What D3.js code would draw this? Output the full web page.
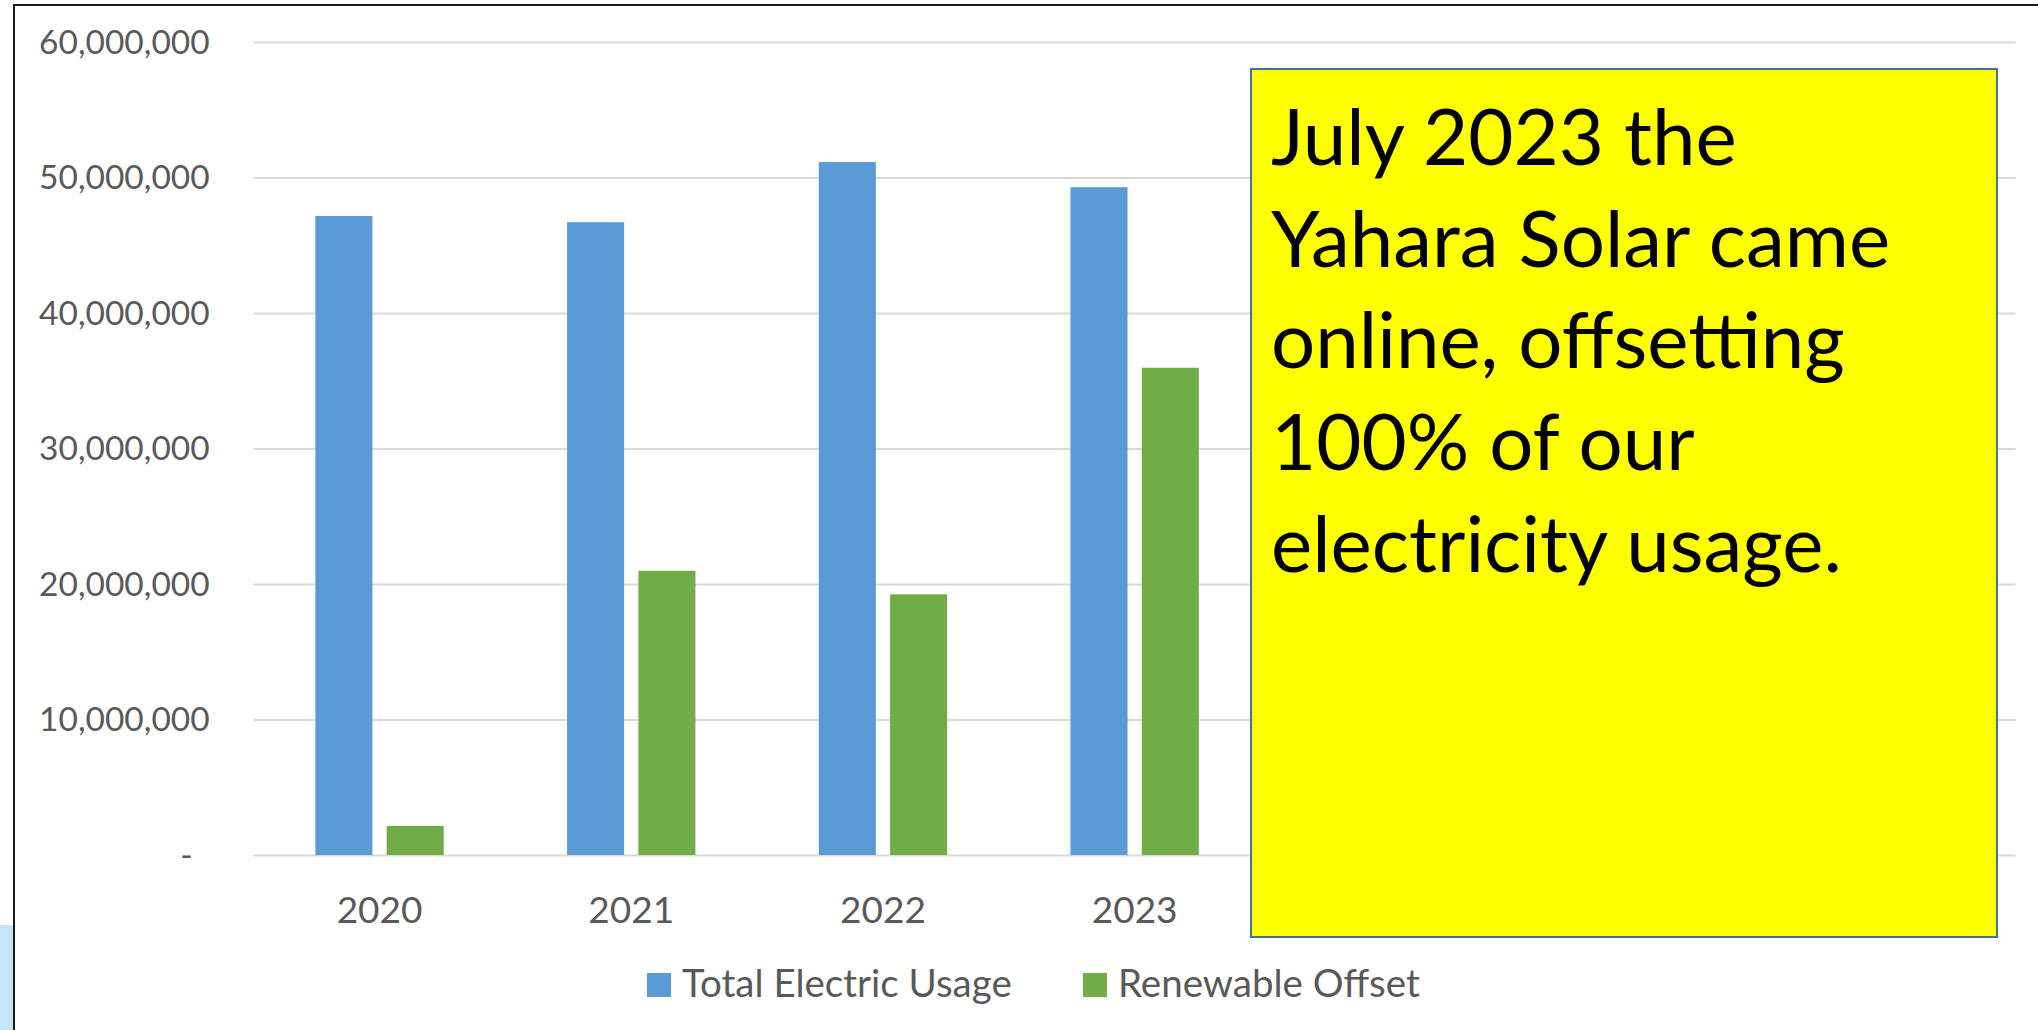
<!DOCTYPE html>
<html>
<head>
<meta charset="utf-8">
<script src="https://cdn.jsdelivr.net/npm/d3@7"></script>
<style>
  body { margin: 0; background: #fff; }
  svg { display: block; }
  .axis text { font-family: Lato, "Open Sans", sans-serif; fill: #595959; }
  .legend text { font-family: Lato, "Open Sans", sans-serif; fill: #595959; }
  .note text { font-family: Lato, "Open Sans", sans-serif; fill: #000; }
</style>
</head>
<body>
<div id="chart"></div>
<script>
const categories = ["2020", "2021", "2022", "2023", "2024", "2025", "2026"];
const totalUsage = [47160000, 46700000, 51140000, 49280000, null, null, null];
const renewableOffset = [2140000, 20980000, 19240000, 35960000, null, null, null];
const seriesNames = ["Total Electric Usage", "Renewable Offset"];
const yTicks = [0, 10000000, 20000000, 30000000, 40000000, 50000000, 60000000];
const noteLines = ["July 2023 the", "Yahara Solar came", "online, offsetting", "100% of our", "electricity usage."];

const width = 2038;
const height = 1030;
const plotLeft = 253.7;
const plotRight = 2015.6;
const plotTop = 42;
const plotBottom = 855;
const colors = ["#5B9BD5", "#70AD47"];

const svg = d3.select("#chart").append("svg")
    .attr("width", width)
    .attr("height", height);

// outer frame (runs off the right and bottom of the picture)
svg.append("rect")
    .attr("x", 14)
    .attr("y", 5)
    .attr("width", 2200)
    .attr("height", 1200)
    .attr("fill", "none")
    .attr("stroke", "#1a1a1a")
    .attr("stroke-width", 2);

// sliver of something light blue at the bottom left
svg.append("rect")
    .attr("x", 0)
    .attr("y", 925)
    .attr("width", 13)
    .attr("height", 110)
    .attr("fill", "#c6e2f4");

const x0 = d3.scaleBand()
    .domain(categories)
    .range([plotLeft, plotRight])
    .paddingInner(0.49)
    .paddingOuter(0.245);

const x1 = d3.scaleBand()
    .domain(seriesNames)
    .range([0, x0.bandwidth()])
    .paddingInner(0.2);

const y = d3.scaleLinear()
    .domain([0, 60000000])
    .range([plotBottom, plotTop]);

const yaxis = d3.axisLeft(y)
    .tickValues(yTicks)
    .tickSize(-(plotRight - plotLeft))
    .tickPadding(44)
    .tickFormat(function(d) { return d === 0 ? "-" : d3.format(",")(d); });

const gy = svg.append("g")
    .attr("class", "axis")
    .attr("transform", "translate(" + plotLeft + ",0)")
    .call(yaxis);

gy.select(".domain").remove();
gy.selectAll(".tick line")
    .attr("stroke", "#d9d9d9")
    .attr("stroke-width", 2);
gy.selectAll(".tick text")
    .style("font-size", "33.5px")
    .attr("dy", "0.34em")
    .attr("dx", function(d) { return d === 0 ? -17 : 0; });

const xaxis = d3.axisBottom(x0)
    .tickSize(0)
    .tickFormat(function(d) { return d; });

const gx = svg.append("g")
    .attr("class", "axis")
    .attr("transform", "translate(0," + plotBottom + ")")
    .call(xaxis);

gx.select(".domain").remove();
gx.selectAll(".tick text")
    .style("font-size", "37px")
    .attr("y", 68)
    .attr("dy", null);

const rows = categories.map(function(c, i) {
    return { year: c, values: [totalUsage[i], renewableOffset[i]] };
});

const groups = svg.selectAll(".year")
    .data(rows)
    .enter()
    .append("g")
    .attr("class", "year")
    .attr("transform", function(d) { return "translate(" + x0(d.year) + ",0)"; });

groups.selectAll("rect")
    .data(function(d) {
        return d.values.map(function(v, i) { return { key: seriesNames[i], value: v, i: i }; })
            .filter(function(e) { return e.value != null; });
    })
    .enter()
    .append("rect")
    .attr("x", function(d) { return x1(d.key); })
    .attr("y", function(d) { return y(d.value); })
    .attr("width", x1.bandwidth())
    .attr("height", function(d) { return plotBottom - y(d.value); })
    .attr("fill", function(d) { return colors[d.i]; });

// the yellow note box sits on top of the plot
const note = svg.append("g").attr("class", "note");

note.append("rect")
    .attr("x", 1251)
    .attr("y", 69)
    .attr("width", 746)
    .attr("height", 868)
    .attr("fill", "#ffff00")
    .attr("stroke", "#41719c")
    .attr("stroke-width", 2);

note.selectAll("text")
    .data(noteLines)
    .enter()
    .append("text")
    .attr("x", 1271)
    .attr("y", function(d, i) { return 165 + i * 101.7; })
    .style("font-size", "78px")
    .text(function(d) { return d; });

// legend
const legend = svg.append("g").attr("class", "legend");
const legendX = [647, 1083];

seriesNames.forEach(function(name, i) {
    legend.append("rect")
        .attr("x", legendX[i])
        .attr("y", 973)
        .attr("width", 24)
        .attr("height", 24)
        .attr("fill", colors[i]);
    legend.append("text")
        .attr("x", legendX[i] + 35)
        .attr("y", 997)
        .style("font-size", "38.5px")
        .text(name);
});
</script>
</body>
</html>
